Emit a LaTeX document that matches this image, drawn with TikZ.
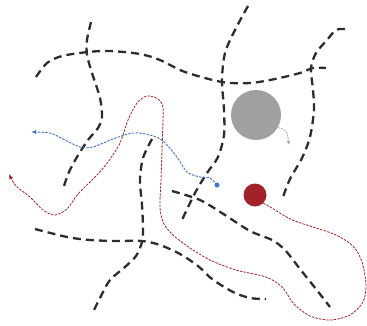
\documentclass[tikz,border=0pt]{standalone}
\usepackage{xcolor}
\definecolor{myr}{RGB}{161, 34, 40}
\definecolor{myb}{RGB}{68, 114, 196}
\definecolor{myk}{RGB}{45, 45, 45}
\definecolor{myg}{RGB}{160, 160, 160}
\usetikzlibrary{arrows.meta}

\begin{document}
\begin{tikzpicture}[x=1pt, y=-1pt,
	crack/.style={myk, line width=2.3pt, dash pattern=on 8pt off 5pt},
	redpath/.style={myr, line width=0.8pt, dash pattern=on 2.5pt off 1.2pt},
	bluepath/.style={myb, line width=0.9pt, dash pattern=on 2.5pt off 1.2pt}]
		\useasboundingbox (0,0) rectangle (367,325);
		\draw[crack] plot[smooth] coordinates {(36,77) (47,63) (62,56) (88,52) (110,51) (140,54) (160,60) (185,72) (222,82) (250,83) (275,79) (300,73) (313,68) (326,68)};
		\draw[crack] plot[smooth] coordinates {(91,22) (87,40) (87,55) (92,73) (100,98) (102,117) (98,128) (88,140) (77,157) (69,172) (64,186)};
		\draw[crack] plot[smooth] coordinates {(248,6) (235,30) (225,53) (222,80) (224,110) (224,135) (218,157) (207,173) (195,193) (181,222)};
		\draw[crack] plot[smooth] coordinates {(345,29) (336,30) (327,40) (316,53) (311,68) (313,90) (314,110) (310,137) (302,158) (290,179) (283,197)};
		\draw[crack] plot[smooth] coordinates {(152,139) (143,158) (140,180) (142,205) (143,228) (142,242) (136,256) (125,267) (110,280) (101,296) (93,312)};
		\draw[crack] plot[smooth] coordinates {(35,229) (67,237) (90,240) (115,241) (142,241) (160,245) (180,254) (198,266) (212,279) (233,292) (250,298) (266,299)};
		\draw[crack] plot[smooth] coordinates {(172,191) (200,200) (225,215) (250,231) (272,240) (285,250) (300,269) (316,289) (330,307)};
		\node[circle, fill=myg, minimum size=50pt, inner sep=0pt] (pore) at (256,115) {};
		\node[circle, fill=myr, minimum size=23pt, inner sep=0pt] (grain) at (255,195) {};
		\node[circle, fill=myb, minimum size=5pt, inner sep=0pt] (tracer) at (217,185) {};
		\coordinate (grainend) at (9,174);
		\coordinate (tracerend) at (31,132);
		\coordinate (poreend) at (289,145);
		\draw[myg, line width=0.8pt, dash pattern=on 2pt off 1.2pt, -{Latex[length=4pt, width=3.5pt]}] (pore.-30) .. controls (287,130) .. (poreend);
		\draw[redpath, -{Latex[length=5pt, width=4pt]}] plot[smooth] coordinates {(grain.-45) (272,208) (283,215) (295,221) (316,228) (336,235) (353,246) (362,262) (366,285) (363,302) (350,315) (330,320) (310,316) (294,304) (282,287) (266,277) (236,270) (210,260) (190,248) (174,236) (164,224) (160,208) (161,180) (162,150) (163,120) (163,107) (158,99) (147,96) (137,103) (128,120) (120,143) (108,162) (96,176) (78,194) (67,209) (55,215) (43,210) (30,197) (16,186) (grainend)};
		\draw[bluepath, -{Latex[length=5pt, width=4pt]}] plot[smooth] coordinates {(tracer) (210,178) (200,177) (187,172) (177,157) (163,141) (150,135) (133,133) (113,139) (93,147) (80,147) (63,139) (50,133) (tracerend)};
	\end{tikzpicture}
\end{document}
